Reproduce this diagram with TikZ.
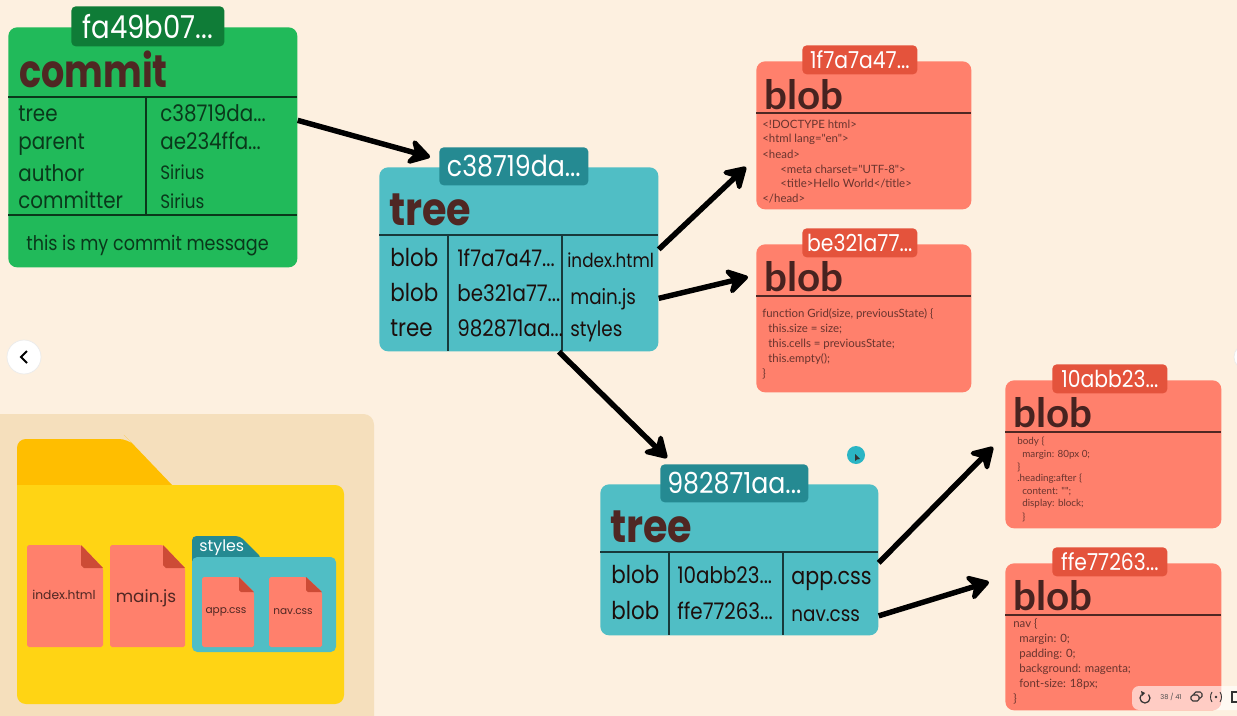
\documentclass[tikz,border=0pt]{standalone}
\usepackage{fontspec}
\usetikzlibrary{arrows.meta}
\setmainfont{Poppins}
\newfontfamily\lato{Lato}
\newfontfamily\geo[FakeStretch=.87]{Poppins}
\newfontfamily\geotight[FakeStretch=.8]{Poppins}
\definecolor{paper}{HTML}{FDF0E0}
\definecolor{panel}{HTML}{F5DFBC}
\definecolor{cgreen}{HTML}{21BA5A}
\definecolor{chash}{HTML}{0F7C37}
\definecolor{ctree}{HTML}{50BEC5}
\definecolor{thash}{HTML}{258A92}
\definecolor{cblob}{HTML}{FF806C}
\definecolor{bhash}{HTML}{E4533C}
\definecolor{brown}{HTML}{4F2723}
\definecolor{tabyel}{HTML}{FFBE00}
\definecolor{foldyel}{HTML}{FFD414}
\definecolor{cursorblue}{HTML}{2BB5C4}
\tikzset{
 box/.style={anchor=north west,inner sep=0pt,rounded corners=5pt},
 hashtag/.style={anchor=north west,inner sep=0pt,rounded corners=2.5pt,text=white,align=center},
 title/.style={anchor=west,inner sep=0pt,text=brown,font=\fontsize{26}{26}\selectfont\geo\bfseries},
 blobtitle/.style={anchor=west,inner sep=0pt,text=brown!90!black,font=\fontsize{23}{23}\selectfont\lato\bfseries},
 cell/.style={anchor=west,inner sep=0pt,text height=12.4pt,text depth=3pt,text=black!65!brown,font=\fontsize{13}{13}\selectfont\geo},
 code/.style={anchor=west,inner sep=0pt,text=brown!85!cblob,font=\fontsize{6.5}{6.5}\selectfont\lato},
 smallcode/.style={code,font=\fontsize{5.6}{5.6}\selectfont\lato},
 arw/.style={line width=3.1pt,-{Stealth[length=15pt,width=18pt,inset=5pt,round]}},
 rule/.style={line width=.8pt},
 file/.style={inner sep=0pt,text=brown}
}
\begin{document}
\begin{tikzpicture}[x=.02cm,y=-.02cm]
 \useasboundingbox (0,0) rectangle (1237,716);
 \fill[paper] (0,0) rectangle (1237,716);
 % folder panel
 \fill[panel,rounded corners=6pt] (-30,414) rectangle (374,760);
 \fill[tabyel,rounded corners=5pt] (17,490) -- (17,439) -- (128,439) -- (130,441) [sharp corners] -- (173,486) -- (17,486) -- cycle;
 \fill[foldyel,rounded corners=5pt] (17,485) rectangle (344,704);
 \fill[foldyel] (17,485) rectangle (60,520);
 \fill[thash,rounded corners=2.5pt] (192,560) -- (192,536) -- (240,536) -- (262,558) -- (192,558) -- cycle;
 \fill[ctree,rounded corners=3pt] (192,557) rectangle (336,652);
 \node[anchor=west,inner sep=0pt,text=white,font=\fontsize{9}{9}\selectfont] (stylesname) at (199,548) {styles};
 % files in the folder
 \fill[cblob,rounded corners=1pt] (27,545) -- (81,545) -- (103,568) -- (103,647) -- (27,647) -- cycle;
 \fill[bhash!90!black] (81,545) -- (103,568) -- (84,568) -- (81,565) -- cycle;
 \fill[cblob,rounded corners=1pt] (110,545) -- (163,545) -- (185,568) -- (185,647) -- (110,647) -- cycle;
 \fill[bhash!90!black] (163,545) -- (185,568) -- (166,568) -- (163,565) -- cycle;
 \fill[cblob,rounded corners=1pt] (202,577) -- (239,577) -- (254,592) -- (254,647) -- (202,647) -- cycle;
 \fill[bhash!90!black] (239,577) -- (254,592) -- (241,592) -- (239,590) -- cycle;
 \fill[cblob,rounded corners=1pt] (269,577) -- (306,577) -- (322,592) -- (322,647) -- (269,647) -- cycle;
 \fill[bhash!90!black] (306,577) -- (322,592) -- (308,592) -- (306,590) -- cycle;
 \node[file,font=\fontsize{7}{7}\selectfont] (indexname) at (64,595) {index.html};
 \node[file,font=\fontsize{9.6}{9.6}\selectfont] (mainname) at (146,598) {main.js};
 \node[file,font=\fontsize{6}{6}\selectfont] (appname) at (226,612) {app.css};
 \node[file,font=\fontsize{6}{6}\selectfont] (navname) at (293,612) {nav.css};
 % commit
 \node[box,fill=cgreen,minimum width=289*.02cm,minimum height=240*.02cm] (commit) at (8,27) {};
 \node[hashtag,fill=chash,minimum width=153*.02cm,minimum height=40*.02cm,font=\fontsize{18}{18}\selectfont\geo] (commithash) at (71,6) {fa49b07...};
 \node[title,font=\fontsize{26}{26}\selectfont\geotight\bfseries] (committitle) at (19,69) {commit};
 \draw[rule,black!70!cgreen] (8,97) -- (297,97);
 \draw[rule,black!70!cgreen] (8,215) -- (297,215);
 \draw[rule,black!70!cgreen] (146,97) -- (146,215);
 \begin{scope}[every node/.style={cell,text=black!70!cgreen}]
 \node (ctree) at (18,113) {tree};
 \node (cparent) at (18,141) {parent};
 \node (cauthor) at (18,173) {author};
 \node (ccommitter) at (18,200) {committer};
 \node (ctreeval) at (160,113) {c38719da...};
 \node (cparentval) at (160,141) {ae234ffa...};
 \node[font=\fontsize{11}{11}\selectfont\geo] (cauthorval) at (160,171) {Sirius};
 \node[font=\fontsize{11}{11}\selectfont\geo] (ccommitterval) at (160,200) {Sirius};
 \node[font=\fontsize{11.5}{11.5}\selectfont\geo] (cmessage) at (26,242) {this is my commit message};
 \end{scope}
 % root tree
 \node[box,fill=ctree,minimum width=279*.02cm,minimum height=184*.02cm] (treeroot) at (379,167) {};
 \node[hashtag,fill=thash,minimum width=149*.02cm,minimum height=38*.02cm,font=\fontsize{16.5}{16.5}\selectfont\geo] (roothash) at (439,147) {c38719da...};
 \node[title] (roottitle) at (389,210) {tree};
 \draw[rule,black!70!ctree] (379,235) -- (658,235);
 \draw[rule,black!70!ctree] (448,235) -- (448,351);
 \draw[rule,black!70!ctree] (562,235) -- (562,351);
 \node[cell,font=\fontsize{14}{14}\selectfont\geo] (rowa) at (390,258) {blob};
 \node[cell,font=\fontsize{14}{14}\selectfont\geo] (rowb) at (390,293) {blob};
 \node[cell,font=\fontsize{14}{14}\selectfont\geo] (rowc) at (390,328) {tree};
 \node[cell] (hasha) at (457,258) {1f7a7a47...};
 \node[cell] (hashb) at (457,293) {be321a77...};
 \node[cell] (hashc) at (457,328) {982871aa...};
 \node[cell,font=\fontsize{11}{11}\selectfont\geo] (namea) at (567,259) {index.html};
 \node[cell,font=\fontsize{12}{12}\selectfont\geo] (nameb) at (570,296) {main.js};
 \node[cell,font=\fontsize{12}{12}\selectfont\geo] (namec) at (570,328) {styles};
 % styles tree
 \node[box,fill=ctree,minimum width=278*.02cm,minimum height=151*.02cm] (treestyles) at (600,484) {};
 \node[hashtag,fill=thash,minimum width=148*.02cm,minimum height=38*.02cm,font=\fontsize{16.5}{16.5}\selectfont\geo] (styleshash) at (660,464) {982871aa...};
 \node[title] (stylestitle) at (610,527) {tree};
 \draw[rule,black!70!ctree] (600,552) -- (878,552);
 \draw[rule,black!70!ctree] (669,552) -- (669,635);
 \draw[rule,black!70!ctree] (783,552) -- (783,635);
 \node[cell,font=\fontsize{14}{14}\selectfont\geo] (rowd) at (611,575) {blob};
 \node[cell,font=\fontsize{14}{14}\selectfont\geo] (rowe) at (611,611) {blob};
 \node[cell] (hashd) at (677,575) {10abb23...};
 \node[cell] (hashe) at (677,611) {ffe77263...};
 \node[cell,font=\fontsize{13.5}{13.5}\selectfont\geo] (named) at (791,576) {app.css};
 \node[cell,font=\fontsize{12}{12}\selectfont\geo] (namee) at (791,613) {nav.css};
 % blobs
 \node[box,fill=cblob,minimum width=215*.02cm,minimum height=148*.02cm] (bloba) at (756,61) {};
 \node[hashtag,fill=bhash,minimum width=115*.02cm,minimum height=29*.02cm,font=\fontsize{13.3}{13.3}\selectfont\geo] (blobahash) at (802,45) {1f7a7a47...};
 \node[blobtitle] (blobatitle) at (764,95) {blob};
 \draw[rule,brown] (756,113) -- (971,113);
 \node[code] (aone) at (762,124) {<!DOCTYPE html>};
 \node[code] (atwo) at (762,139) {<html lang="en">};
 \node[code] (athree) at (762,154) {<head>};
 \node[code] (afour) at (780,169) {<meta charset="UTF-8">};
 \node[code] (afive) at (780,184) {<title>Hello World</title>};
 \node[code] (asix) at (762,199) {</head>};
 \node[box,fill=cblob,minimum width=215*.02cm,minimum height=148*.02cm] (blobb) at (756,244) {};
 \node[hashtag,fill=bhash,minimum width=115*.02cm,minimum height=29*.02cm,font=\fontsize{13.3}{13.3}\selectfont\geo] (blobbhash) at (802,228) {be321a77...};
 \node[blobtitle] (blobbtitle) at (764,277) {blob};
 \draw[rule,brown] (756,296) -- (971,296);
 \node[code] (bone) at (762,314) {function Grid(size, previousState) \{};
 \node[code] (btwo) at (768,329) {this.size = size;};
 \node[code] (bthree) at (768,344) {this.cells = previousState;};
 \node[code] (bfour) at (768,359) {this.empty();};
 \node[code] (bfive) at (762,374) {\}};
 \node[box,fill=cblob,minimum width=216*.02cm,minimum height=148*.02cm] (blobc) at (1005,380) {};
 \node[hashtag,fill=bhash,minimum width=115*.02cm,minimum height=29*.02cm,font=\fontsize{13.3}{13.3}\selectfont\geo] (blobchash) at (1052,364) {10abb23...};
 \node[blobtitle] (blobctitle) at (1013,413) {blob};
 \draw[rule,brown] (1005,432) -- (1221,432);
 \node[smallcode] (cone) at (1017,442) {body \{};
 \node[smallcode] (ctwo) at (1022,455) {margin: 80px 0;};
 \node[smallcode] (cthree) at (1017,467) {\}};
 \node[smallcode] (cfour) at (1017,479) {.heading:after \{};
 \node[smallcode] (cfive) at (1022,492) {content: "";};
 \node[smallcode] (csix) at (1022,504) {display: block;};
 \node[smallcode] (cseven) at (1022,517) {\}};
 \node[box,fill=cblob,minimum width=216*.02cm,minimum height=147*.02cm] (blobd) at (1005,563) {};
 \node[hashtag,fill=bhash,minimum width=115*.02cm,minimum height=29*.02cm,font=\fontsize{13.3}{13.3}\selectfont\geo] (blobdhash) at (1052,547) {ffe77263...};
 \node[blobtitle] (blobdtitle) at (1013,596) {blob};
 \draw[rule,brown] (1005,615) -- (1221,615);
 \node[code] (done) at (1013,624) {nav \{};
 \node[code] (dtwo) at (1019,639) {margin: 0;};
 \node[code] (dthree) at (1019,654) {padding: 0;};
 \node[code] (dfour) at (1019,669) {background: magenta;};
 \node[code] (dfive) at (1019,684) {font-size: 18px;};
 \node[code] (dsix) at (1013,699) {\}};
 % arrows
 \coordinate (tiproot) at (430,157);
 \coordinate (tipa) at (746,167);
 \coordinate (tipb) at (748,277);
 \coordinate (tipstyles) at (667,458);
 \coordinate (tipc) at (993,447);
 \coordinate (tipd) at (989,582);
 \draw[arw] ([yshift=27*.02cm]commit.east) -- (tiproot);
 \draw[arw] ([yshift=10*.02cm]treeroot.east) -- (tipa);
 \draw[arw] ([yshift=-39*.02cm]treeroot.east) -- (tipb);
 \draw[arw] ([xshift=40*.02cm]treeroot.south) -- (tipstyles);
 \draw[arw] ([yshift=-3*.02cm]treestyles.east) -- (tipc);
 \draw[arw] ([yshift=-56*.02cm]treestyles.east) -- (tipd);
 % viewer controls
 \fill[white,draw=black!8] (24,357) circle (17);
 \draw[line width=1.1pt] (27,351) -- (21,357) -- (27,363);
 \fill[white,draw=black!8] (1247,357) circle (13);
 \fill[cursorblue] (856,455) circle (9);
 \fill[black!80] (855,454) -- (855,461) -- (857,459.5) -- (860,459) -- cycle;
 \fill[white,opacity=.6,rounded corners=4pt] (1132,686) rectangle (1260,710);
 \node[inner sep=0pt,text=black!70,font=\fontsize{3.8}{3.8}\selectfont] (pagecount) at (1171,697) {38 / 41};
 \draw[black!80,line width=.7pt] (1148.5,694.5) arc (-45:225:5);
 \fill[black!80] (1141,691) -- (1145,693) -- (1142,696) -- cycle;
 \draw[black!80,line width=.6pt,rounded corners=1pt] (1191,695) rectangle (1199,701);
 \draw[black!80,line width=.6pt,rounded corners=1pt] (1194,695) -- (1194,692) -- (1202,692) -- (1202,698) -- (1199,698);
 \fill[black!80] (1216,697) circle (1.3);
 \draw[black!80,line width=.5pt] (1212,692) .. controls (1210,695) and (1210,699) .. (1212,702);
 \draw[black!80,line width=.5pt] (1220,692) .. controls (1222,695) and (1222,699) .. (1220,702);
 \draw[black!80,line width=.6pt] (1232,692) rectangle (1240,702);
\end{tikzpicture}
\end{document}
